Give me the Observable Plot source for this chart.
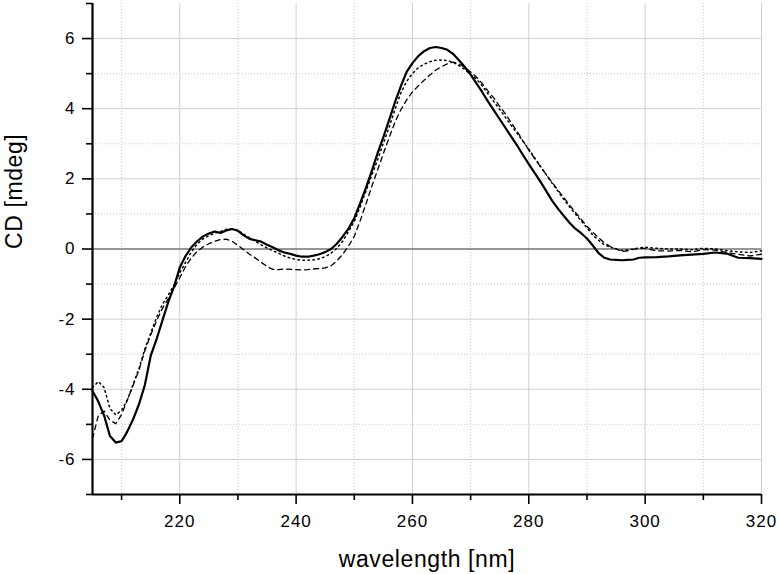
<!DOCTYPE html>
<html>
<head>
<meta charset="utf-8">
<script src="https://cdn.jsdelivr.net/npm/d3@7"></script>
<script src="https://cdn.jsdelivr.net/npm/@observablehq/plot@0.6"></script>
<style>
  html, body { margin: 0; padding: 0; background: #fff; }
</style>
</head>
<body>
<div id="chart"></div>
<script>
// wavelength grid (nm)
const wavelength = [
  205,206,207,208,209,210,211,212,213,214,215,216,217,218,219,
  220,221,222,223,224,225,226,227,228,229,230,231,232,233,234,235,236,237,238,239,
  240,241,242,243,244,245,246,247,248,249,250,251,252,253,254,255,256,257,258,259,
  260,261,262,263,264,265,266,267,268,269,270,271,272,273,274,275,276,277,278,279,
  280,281,282,283,284,285,286,287,288,289,290,291,292,293,294,295,296,297,298,299,
  300,302,304,306,308,310,312,314,316,318,320
];
// CD [mdeg], solid curve
const solid = [
  -4.05,-4.35,-4.75,-5.33,-5.52,-5.48,-5.2,-4.85,-4.42,-3.88,-3.05,-2.58,-2.05,-1.52,-1.08,
  -0.53,-0.2,0.05,0.22,0.36,0.44,0.5,0.46,0.53,0.57,0.52,0.39,0.29,0.25,0.21,0.12,0.05,-0.04,-0.1,-0.14,
  -0.19,-0.22,-0.22,-0.19,-0.15,-0.09,0.0,0.15,0.35,0.58,0.88,1.3,1.74,2.22,2.73,3.19,3.68,4.19,4.64,5.05,
  5.3,5.5,5.64,5.73,5.76,5.73,5.68,5.56,5.38,5.19,4.97,4.72,4.47,4.2,3.95,3.7,3.45,3.2,2.95,2.68,
  2.42,2.17,1.92,1.65,1.38,1.15,0.95,0.75,0.58,0.45,0.3,0.1,-0.12,-0.25,-0.3,-0.31,-0.32,-0.31,-0.3,-0.25,
  -0.24,-0.23,-0.21,-0.18,-0.16,-0.14,-0.1,-0.13,-0.25,-0.26,-0.28
];
// CD [mdeg], dotted curve
const dotted = [
  -3.95,-3.78,-3.95,-4.55,-4.73,-4.6,-4.3,-3.85,-3.4,-2.85,-2.4,-1.96,-1.58,-1.32,-1.03,
  -0.68,-0.38,-0.08,0.14,0.29,0.38,0.45,0.5,0.56,0.57,0.53,0.42,0.32,0.22,0.12,0.03,-0.05,-0.12,-0.2,-0.26,
  -0.3,-0.32,-0.32,-0.31,-0.28,-0.22,-0.12,0.02,0.22,0.5,0.78,1.2,1.65,2.1,2.54,3.02,3.48,3.98,4.45,4.78,
  5.0,5.17,5.27,5.34,5.38,5.39,5.37,5.32,5.23,5.12,4.98,4.85,4.65,4.42,4.2,3.98,3.75,3.52,3.3,3.07,
  2.85,2.6,2.36,2.12,1.88,1.65,1.42,1.2,1.0,0.8,0.6,0.4,0.25,0.12,0.05,0.0,-0.04,-0.02,0.0,0.03,
  0.05,0.02,0.0,0.0,-0.02,0.02,0.0,-0.05,-0.08,-0.1,-0.05
];
// CD [mdeg], dashed curve
const dashed = [
  -5.4,-4.75,-4.62,-4.88,-4.98,-4.72,-4.3,-3.88,-3.45,-2.9,-2.45,-2.05,-1.7,-1.42,-1.12,
  -0.82,-0.5,-0.25,-0.07,0.06,0.15,0.22,0.27,0.28,0.22,0.1,-0.02,-0.15,-0.26,-0.38,-0.5,-0.58,-0.59,-0.57,-0.58,
  -0.59,-0.6,-0.59,-0.57,-0.56,-0.54,-0.48,-0.34,-0.15,0.08,0.36,0.8,1.28,1.78,2.25,2.72,3.18,3.62,3.97,4.25,
  4.48,4.65,4.81,4.96,5.1,5.2,5.28,5.33,5.28,5.18,5.05,4.9,4.72,4.5,4.3,4.07,3.85,3.6,3.35,3.08,
  2.82,2.58,2.35,2.12,1.9,1.68,1.47,1.25,1.05,0.85,0.65,0.48,0.32,0.18,0.07,0.0,-0.07,-0.05,-0.01,0.02,
  0.02,-0.05,-0.06,-0.04,-0.08,-0.02,-0.03,-0.1,-0.15,-0.2,-0.15
];

const xMajorTicks = [220, 240, 260, 280, 300, 320];
const xMinorTicks = [210, 230, 250, 270, 290, 310];
const yMajorTicks = [-6, -4, -2, 0, 2, 4, 6];
const yMinorTicks = [-7, -5, -3, -1, 1, 3, 5, 7];
const xDomain = [205, 320];
const yDomain = [-7, 7];
const xTitle = "wavelength [nm]";
const yTitle = "CD [mdeg]";

const rows = (vals) => wavelength.map((w, i) => ({w, v: vals[i]}));

const chart = Plot.plot({
  width: 779,
  height: 574,
  marginTop: 3,
  marginRight: 18,
  marginBottom: 80,
  marginLeft: 92,
  x: {domain: xDomain},
  y: {domain: yDomain},
  style: {fontFamily: "'Liberation Sans', Arial, sans-serif", fontSize: "17px", color: "#000", background: "#fff"},
  marks: [
    Plot.gridX(xMinorTicks, {stroke: "#c8c8c8", strokeOpacity: 1, strokeDasharray: "1,2"}),
    Plot.gridY(yMinorTicks.filter(d => Math.abs(d) < 7), {stroke: "#c8c8c8", strokeOpacity: 1, strokeDasharray: "1,2"}),
    Plot.gridX(xMajorTicks, {stroke: "#d0d0d0", strokeOpacity: 1}),
    Plot.gridY(yMajorTicks, {stroke: "#d0d0d0", strokeOpacity: 1}),
    Plot.ruleY([0], {stroke: "#444", strokeWidth: 1}),
    Plot.line(rows(dashed), {x: "w", y: "v", stroke: "#000", strokeWidth: 1.3, strokeDasharray: "5,4"}),
    Plot.line(rows(dotted), {x: "w", y: "v", stroke: "#000", strokeWidth: 1.5, strokeDasharray: "1.5,3.5"}),
    Plot.line(rows(solid), {x: "w", y: "v", stroke: "#000", strokeWidth: 2.2}),
    Plot.axisX(xMinorTicks, {tickSize: 6, tickFormat: () => "", label: null, strokeWidth: 1.6}),
    Plot.axisX(xMajorTicks, {tickSize: 10, tickPadding: 10, tickFormat: d => String(d), label: null, strokeWidth: 1.6, fontSize: 17}),
    Plot.axisY(yMinorTicks, {tickSize: 6, tickFormat: () => "", label: null, strokeWidth: 1.6}),
    Plot.axisY(yMajorTicks, {tickSize: 10, tickPadding: 7, tickFormat: d => String(d), label: null, strokeWidth: 1.6, fontSize: 17}),
    Plot.ruleX([xDomain[0]], {stroke: "#000", strokeWidth: 2.2}),
    Plot.ruleY([yDomain[0]], {stroke: "#000", strokeWidth: 2.2}),
    Plot.text([xTitle], {text: d => d, frameAnchor: "bottom", dy: 72, lineAnchor: "bottom", fontSize: 23}),
    Plot.text([yTitle], {text: d => d, frameAnchor: "left", dx: -71, rotate: -90, lineAnchor: "bottom", fontSize: 23})
  ]
});
// enlarge the axis tick labels
d3.select(chart).selectAll('g[aria-label$="tick label"]')
  .attr("font-size", 17)
  .style("font-size", "17px")
  .style("letter-spacing", "1px");
d3.select(chart).selectAll('g[aria-label$="tick label"] text')
  .style("font-size", "17px");
d3.select(chart).selectAll('g[aria-label="text"]').style("letter-spacing", "0.6px");
document.getElementById("chart").appendChild(chart);
</script>
</body>
</html>
